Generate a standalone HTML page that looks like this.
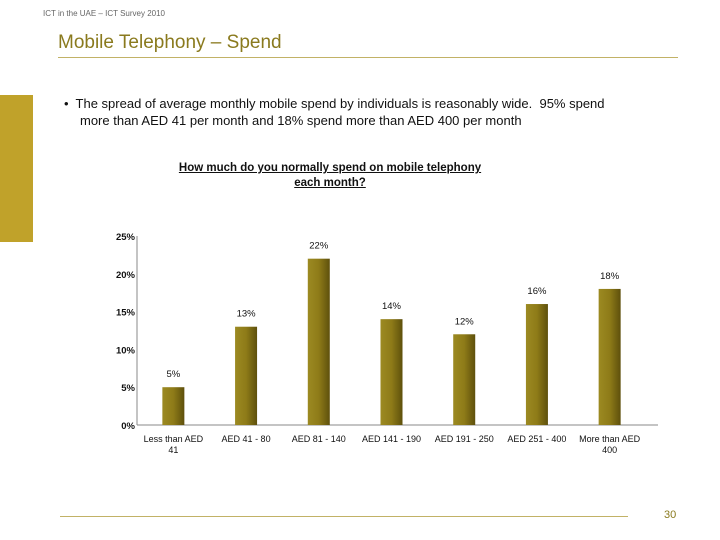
<!DOCTYPE html>
<html><head><meta charset="utf-8"><style>
body{margin:0;width:720px;height:540px;background:#fff;position:relative;font-family:"Liberation Sans",sans-serif;overflow:hidden}
.a{position:absolute}
</style></head><body>
<div class="a" style="left:43px;top:9px;font-size:8px;color:#666">ICT in the UAE – ICT Survey 2010</div>
<div class="a" style="left:58px;top:32px;font-size:19px;color:#8a7a1e">Mobile Telephony – Spend</div>
<div class="a" style="left:58px;top:57px;width:620px;height:1px;background:#c2b266"></div>
<div class="a" style="left:0;top:95px;width:33px;height:147px;background:#c0a22a"></div>
<div class="a" style="left:64px;top:95px;width:610px;font-size:13px;line-height:17px;color:#111">•&nbsp; The spread of average monthly mobile spend by individuals is reasonably wide.&nbsp; 95% spend<br><span style="padding-left:16px">more than AED 41 per month and 18% spend more than AED 400 per month</span></div>
<div class="a" style="left:150px;top:161px;width:360px;text-align:center;font-size:11.5px;font-weight:bold;text-decoration:underline;color:#111;line-height:15px">How much do you normally spend on mobile telephony<br>each month?</div>
<svg class="a" style="left:0;top:0" width="720" height="540">
<defs><linearGradient id="g" x1="0" x2="1"><stop offset="0" stop-color="#9c8a22"/><stop offset="0.5" stop-color="#8e7b18"/><stop offset="1" stop-color="#5e500c"/></linearGradient></defs>
<g id="plot"></g>
</svg>
<div class="a" style="left:60px;top:516px;width:568px;height:1px;background:#c2b266"></div>
<div class="a" style="left:664px;top:509px;font-size:11px;color:#8a7a1e">30</div>
<script>
const categories=["Less than AED|41","AED 41 - 80","AED 81 - 140","AED 141 - 190","AED 191 - 250","AED 251 - 400","More than AED|400"];
const values=[5,13,22,14,12,16,18];
const ticks=[0,5,10,15,20,25];
const x0=137,x1=646,axisEnd=658,y0=425,yTop=236,yMax=25;
const ns="http://www.w3.org/2000/svg",g=document.getElementById('plot');
const y=v=>y0-(v/yMax)*(y0-yTop);
const step=(x1-x0)/categories.length;
const xc=i=>x0+step*(i+0.5);
function el(t,a){const e=document.createElementNS(ns,t);for(const k in a)e.setAttribute(k,a[k]);g.appendChild(e);return e;}
let ax=el('line',{x1:x0,y1:yTop,x2:x0,y2:y0,stroke:'#888'});


let bx=el('line',{x1:x0,y1:y0,x2:axisEnd,y2:y0,stroke:'#888'});


ticks.forEach(t=>{const e=el('text',{x:x0-2,y:y(t)+4,'text-anchor':'end','font-size':'9.5','font-weight':'bold',fill:'#111'});e.textContent=t+'%';

});
values.forEach((v,i)=>{
const r=el('rect',{x:xc(i)-11,y:y(v),width:22,height:y0-y(v),fill:'url(#g)'});


const t=el('text',{x:xc(i),y:y(v)-10,'text-anchor':'middle','font-size':'9.5',fill:'#111'});t.textContent=v+'%';


categories[i].split('|').forEach((s,j)=>{const c=el('text',{x:xc(i),y:y0+17+j*11,'text-anchor':'middle','font-size':'9',fill:'#111'});c.textContent=s;

});
});
</script>
</body></html>
